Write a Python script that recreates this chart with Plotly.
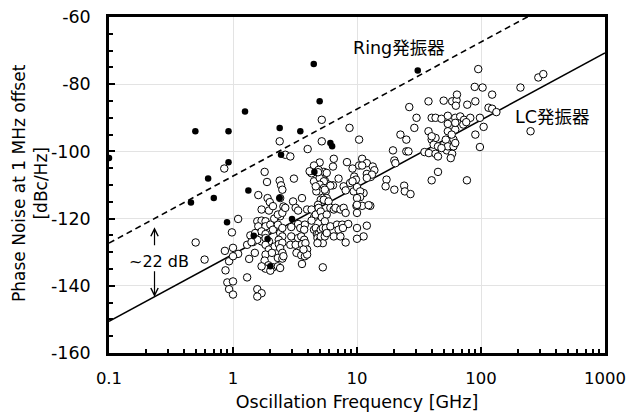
import plotly.graph_objects as go

# Ring oscillators (filled dots): frequency [GHz], phase noise [dBc/Hz]
ring_f = [0.1, 0.458, 0.497, 0.63, 0.70, 0.895, 0.92, 0.92, 1.25, 1.33, 1.47, 1.90, 2.0,
          2.38, 2.44, 2.38, 2.99, 3.49, 4.48, 4.53, 5.0, 6.1, 6.3, 30.9]
ring_pn = [-102, -115.2, -94, -108.1, -113.9, -121.1, -94, -103.2, -88.1, -111.6, -125.1, -126.1, -134.2,
           -93, -101, -113.9, -120.1, -94, -74, -106.1, -85.1, -97.5, -98.5, -75.9]

# LC oscillators (open circles)
lc_f = [
    0.5, 0.59, 0.85, 0.86, 0.93, 0.87, 1.0, 1.1, 1.0, 0.98, 1.1, 0.9, 1.0, 0.93, 1.0, 1.3, 1.35, 1.3,
    1.45, 1.5, 1.57, 1.7, 1.57,
    1.38, 1.51, 1.57, 1.7, 1.83, 1.6, 1.83, 2.0, 1.7, 1.83, 2.1, 2.3, 2.4, 2.5, 2.34, 1.95, 1.7, 1.57,
    1.83, 1.83, 1.95, 2.17, 2.34, 2.5, 1.83, 2.06, 2.3, 2.5, 1.8, 1.93, 2.1, 1.83, 1.7, 2.0, 2.3, 2.4,
    2.4, 2.5, 2.55, 2.5, 2.4, 2.15, 2.3, 2.5, 1.7, 1.95, 1.9, 1.98, 2.1, 1.6, 1.8, 1.88, 2.38, 2.44,
    2.5, 2.38, 2.64, 2.9, 2.4, 2.55, 2.64, 1.41,
    3.1, 3.6, 3.05, 3.2, 3.35, 3.96, 2.95, 3.35, 3.49, 3.8, 3.75, 2.95, 3.35, 3.55, 3.75, 2.9, 3.2, 3.6,
    3.84, 3.96, 3.25, 3.55, 3.8, 3.96, 3.7, 3.6, 4.0,
    5.2, 5.2, 6.5, 6.4, 5.0, 4.5, 4.2, 4.7, 5.4, 7.1, 4.5, 5.5, 4.9, 4.3, 5.9, 6.4, 5.2, 5.6, 8.3, 9.2,
    5.7, 5.0, 5.4, 5.0, 5.4, 6.1, 5.0, 5.5, 4.7, 4.65, 5.1, 5.7, 4.85, 4.15, 4.85,
    4.3, 4.5, 4.65, 4.9, 5.4, 5.9, 6.1, 6.5, 6.7, 7.35, 7.8, 8.1, 5.1, 5.2, 5.7, 5.5,
    4.3, 4.5, 4.65, 4.75, 4.9, 5.1, 5.3, 5.6, 4.8, 5.0, 5.3, 5.1, 5.5, 5.7, 6.1, 4.8, 5.3,
    6.9, 7.6, 8.5, 7.1, 7.7, 8.1, 6.5, 7.35, 8.7, 7.8, 8.1,
    9.4, 11.3, 10, 11, 12, 13.4, 13.8, 12, 12.9, 10.4, 9.5, 9.8, 8.8, 11, 13.2, 12, 9.2, 10.6, 10.6,
    10, 12.8, 11, 9.9, 10, 10, 12.4, 10, 12, 11.3, 10, 10.4,
    17.3, 17, 20, 24, 24.3, 27, 40, 77, 45, 20, 20.4, 19.5, 25, 26, 35, 38, 43, 45, 53, 58.5, 57, 22.4,
    25, 40, 43, 41.5, 52, 60, 54, 60, 62, 45, 48, 37.7, 40, 54, 62, 58, 29, 30.2, 40, 43, 48, 54, 62,
    68, 73, 82, 98, 54, 62, 72, 76, 26.4, 37.7, 50, 58.5, 63.5, 62.7, 77.5, 64,
    95, 89, 103, 123, 90, 115, 123, 133, 105, 90, 98, 208, 290, 318, 251,
]
lc_pn = [
    -127.1, -132.2, -105.1, -129.6, -132.7, -135.4, -128.7, -130.5, -131.2, -124.1, -120.1, -139, -138.7,
    -141, -142.6, -127.8, -132, -137.5, -127, -130.2, -141, -142.2, -143.2,
    -125, -124.3, -120.8, -120.6, -120.8, -122.3, -122.3, -121.8, -123.8, -124.6, -123.3, -121.8, -124.3,
    -125.3, -126.3, -126.8, -126.8, -126.3,
    -125.8, -127.8, -129.2, -128.3, -127.6, -127.2, -130.7, -130.2, -131.7, -131.9, -132.5, -133.9,
    -134.5, -134.9, -134.2, -135.5, -134.2, -134.7,
    -128.8, -130.2, -131.2, -122.8, -119.3, -120, -118.8, -118.3, -117.3, -117.6, -113.9, -115.1, -116.3,
    -113, -106.1, -109.1, -108.7, -110.1,
    -111.4, -97, -101, -101.5, -113.9, -116.4, -116.8, -127,
    -108.1, -113.9, -114.9, -116.8, -117.6, -117.3, -122.5, -121.6, -122.8, -121.8, -123.3, -125.3, -125.8,
    -125.3, -126.3, -127.8, -127.8, -127.6,
    -127.3, -129.2, -130.2, -130.9, -131.2, -130.7, -129.2, -133.5, -99.3,
    -90.6, -97, -102.2, -104.5, -103.3, -104.2, -106.1, -106.1, -106.1, -108.1, -108.9, -108.7, -105.5,
    -106.5, -109.9, -110.1, -110.4, -111.9, -103.2, -105.1,
    -106.4, -107.9, -108.9, -109.9, -110.9, -110.2, -111.9, -111.4, -111.9, -110.4, -114.4, -113.9,
    -115.9, -105.9, -106.2,
    -117.3, -119.6, -118.8, -116.8, -114.4, -114.9, -116.8, -117.3, -116.8, -117.3, -116.8, -118.3,
    -117.9, -119.6, -118.8, -120.8,
    -120.6, -123.3, -122.8, -124.6, -124.6, -123.3, -122.8, -122.8, -125.8, -126.6, -127.3, -125.3,
    -125.3, -124.3, -122.3, -127.3, -134.5,
    -121.8, -121.8, -121.6, -123.3, -122.8, -127.1, -125.3, -125.3, -93, -110.4, -111.6,
    -111.9, -112.4, -110.6, -102.2, -103.5, -104.5, -105.6, -106.7, -107.6, -104.2, -107.5, -108.4,
    -109.4, -104.2, -106.9, -107.9, -108.9, -111.9, -113.6,
    -113.9, -116.2, -116.2, -116.2, -118.3, -115.9, -116, -122.8, -122.1, -125.3, -126, -96.5,
    -108.4, -110.4, -111.4, -110.2, -111.9, -112.7, -108.6, -108.6, -106.1, -102.7, -103.5, -99.7, -100,
    -100, -100.2, -100.5, -100.7, -101.5, -99.7, -100.7, -102, -95,
    -96.5, -96.5, -96, -98, -96.5, -96.5, -98.5, -98.5, -97.5, -98.5, -99, -94, -95.5, -94, -93.5, -95,
    -93, -90, -90, -90, -90.3, -89.4, -90,
    -89.6, -90.6, -90, -90, -91.8, -91.5, -92, -91.3, -86.8, -85.1, -84.9, -85.1, -84.8, -86.4, -86.1,
    -83.1,
    -75.5, -80.8, -81, -83.1, -85.1, -87, -87.3, -88.3, -92.7, -95, -98.7, -81, -78, -77, -94,
]

# Trend lines (end points)
line_f = [0.1, 1000]
lc_line_pn = [-150.6, -70.7]
ring_line_pn = [-127.3, -47.5]

x_tickvals = [0.1, 1, 10, 100, 1000]
x_ticktext = ["0.1", "1", "10", "100", "1000"]
y_tickvals = [-160, -140, -120, -100, -80, -60]
y_ticktext = ["-160", "-140", "-120", "-100", "-80", "-60"]

FONT = "DejaVu Sans, Noto Sans CJK JP, sans-serif"
FS = 17.5

fig = go.Figure()
fig.add_trace(go.Scatter(x=line_f, y=ring_line_pn, mode="lines",
                         line=dict(color="black", width=1.6, dash="6px,4px"), showlegend=False))
fig.add_trace(go.Scatter(x=line_f, y=lc_line_pn, mode="lines",
                         line=dict(color="black", width=1.6), showlegend=False))
fig.add_trace(go.Scatter(x=lc_f, y=lc_pn, mode="markers",
                         marker=dict(symbol="circle", size=7.5, color="white",
                                     line=dict(color="black", width=1)),
                         showlegend=False))
fig.add_trace(go.Scatter(x=ring_f, y=ring_pn, mode="markers",
                         marker=dict(symbol="circle", size=6.5, color="black",
                                     line=dict(color="black", width=0)),
                         showlegend=False))

# labels
fig.add_annotation(x=1.342, y=-69.1, text="Ring発振器", showarrow=False,
                   font=dict(size=FS, family=FONT, color="black"))
fig.add_annotation(x=2.574, y=-89.7, text="LC発振器", showarrow=False,
                   font=dict(size=FS, family=FONT, color="black"))
fig.add_annotation(x=-0.60, y=-132.8, text="~22 dB", showarrow=False,
                   font=dict(size=16, family=FONT, color="black"))
fig.add_annotation(x=-0.633, y=-122.6, ax=-0.633, ay=-128.4, axref="x", ayref="y",
                   text="", showarrow=True, arrowhead=5, arrowsize=1.2, arrowwidth=1.2,
                   arrowcolor="black")
fig.add_annotation(x=-0.633, y=-143.3, ax=-0.633, ay=-135.2, axref="x", ayref="y",
                   text="", showarrow=True, arrowhead=5, arrowsize=1.2, arrowwidth=1.2,
                   arrowcolor="black")
# y-axis title
fig.add_annotation(xref="paper", yref="paper", x=-0.158, y=0.505,
                   text="Phase Noise at 1 MHz offset<br>[dBc/Hz]", textangle=-90,
                   showarrow=False, xanchor="center", yanchor="middle",
                   font=dict(size=17, family=FONT, color="black"))

fig.update_xaxes(type="log", range=[-1, 3], tickvals=x_tickvals, ticktext=x_ticktext,
                 showline=True, mirror=True, linecolor="black", linewidth=2.5,
                 ticks="inside", ticklen=6, tickwidth=2, tickcolor="black",
                 minor=dict(ticks="inside", ticklen=4, tickwidth=1.5, tickcolor="black",
                            dtick="D1", showgrid=False),
                 showgrid=True, gridcolor="#e3e3e3", gridwidth=1, zeroline=False,
                 ticklabelstandoff=8, ticklabeloverflow="allow", automargin=False,
                 tickfont=dict(size=16.5, family=FONT, color="black"),
                 title=dict(text="Oscillation Frequency [GHz]", standoff=10,
                            font=dict(size=FS, family=FONT, color="black")))
fig.update_yaxes(range=[-160, -60], tickvals=y_tickvals, ticktext=y_ticktext,
                 showline=True, mirror=True, linecolor="black", linewidth=2.5,
                 ticks="inside", ticklen=6, tickwidth=2, tickcolor="black",
                 minor=dict(ticks="inside", ticklen=4, tickwidth=1.5, tickcolor="black",
                            dtick=5, showgrid=False),
                 showgrid=True, gridcolor="#e3e3e3", gridwidth=1, zeroline=False,
                 ticklabelstandoff=12, ticklabeloverflow="allow", automargin=False,
                 tickfont=dict(size=FS, family=FONT, color="black"))

fig.update_layout(width=626, height=412, margin=dict(l=109, r=21, t=17, b=59),
                  plot_bgcolor="white", paper_bgcolor="white",
                  font=dict(family=FONT, color="black"))

# remove the default page margin so the 626x412 figure fills the window exactly
fig.write_html("out.html", config={"displayModeBar": False},
               post_script="document.body.style.margin='0';document.body.style.overflow='hidden';")
